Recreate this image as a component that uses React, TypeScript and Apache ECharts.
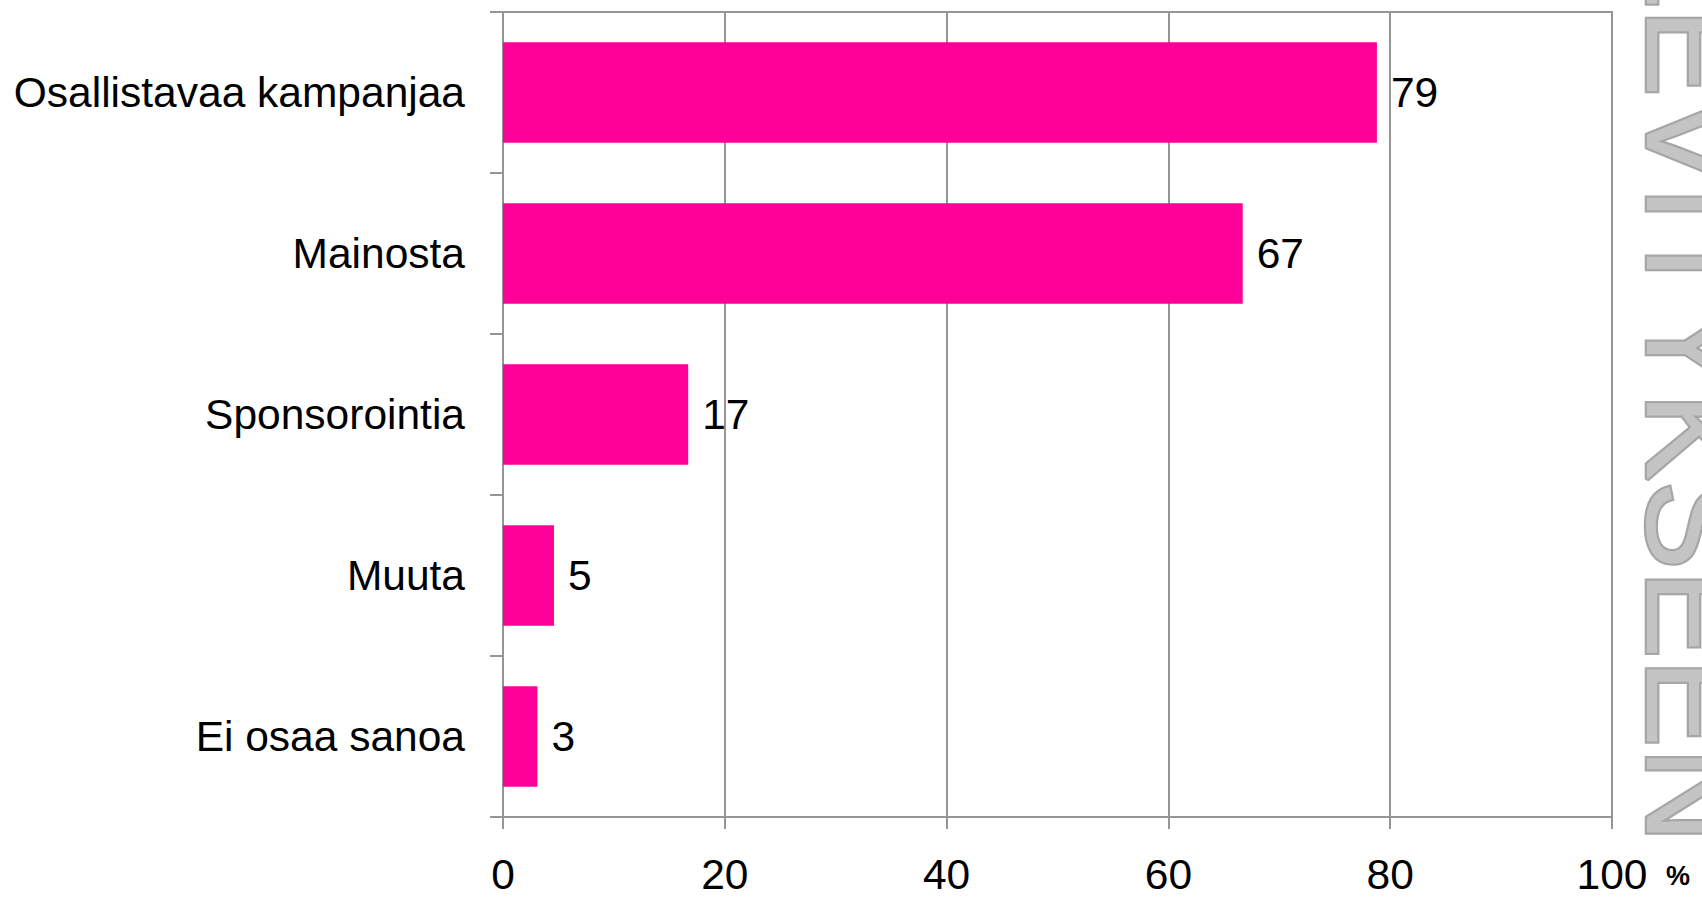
import React, { useEffect, useRef } from "react";
import * as echarts from "echarts";

const categories = [
  "Osallistavaa kampanjaa",
  "Mainosta",
  "Sponsorointia",
  "Muuta",
  "Ei osaa sanoa",
];
const values = [78.8, 66.7, 16.7, 4.6, 3.1];
const valueLabels = ["79", "67", "17", "5", "3"];
const xTicks = [0, 20, 40, 60, 80, 100];
const unitLabel = "%";
const watermark = "LEVITYKSEEN";

const FONT = "'Liberation Sans', Arial, Helvetica, sans-serif";
const GRAY = "#959595";

export default function App() {
  const ref = useRef<HTMLDivElement>(null);
  useEffect(() => {
    if (!ref.current) return;
    const chart = echarts.init(ref.current, null, { renderer: "svg" });
    chart.setOption({
      animation: false,
      backgroundColor: "#ffffff",
      grid: {
        left: 503,
        top: 12,
        width: 1109,
        height: 805,
        show: true,
        borderColor: GRAY,
        borderWidth: 2,
        containLabel: false,
        outerBoundsMode: "none",
      },
      xAxis: {
        type: "value",
        min: xTicks[0],
        max: xTicks[xTicks.length - 1],
        interval: 20,
        axisLine: { show: true, lineStyle: { color: GRAY, width: 2 } },
        axisTick: { show: true, length: 12, lineStyle: { color: GRAY, width: 2 } },
        splitLine: { show: true, lineStyle: { color: GRAY, width: 2 } },
        axisLabel: {
          margin: 40,
          fontSize: 42.5,
          lineHeight: 34,
          fontFamily: FONT,
          color: "#000",
        },
      },
      yAxis: {
        type: "category",
        data: categories,
        inverse: true,
        axisLine: { show: true, lineStyle: { color: GRAY, width: 2 } },
        axisTick: { show: true, length: 13, alignWithLabel: false, lineStyle: { color: GRAY, width: 2 } },
        splitLine: { show: false },
        axisLabel: {
          margin: 38,
          fontSize: 42.5,
          fontFamily: FONT,
          color: "#000",
        },
      },
      series: [
        {
          type: "bar",
          data: values,
          barCategoryGap: "37.5%",
          itemStyle: { color: "#ff0099" },
          label: {
            show: true,
            position: "right",
            distance: 14,
            fontSize: 42.5,
            fontFamily: FONT,
            color: "#000",
            formatter: (p: any) => valueLabels[p.dataIndex],
          },
        },
      ],
      graphic: [
        {
          type: "text",
          x: 1693,
          y: -66,
          rotation: -Math.PI / 2,
          silent: true,
          z: 10,
          style: {
            text: watermark,
            fontSize: 133,
            fontFamily: FONT,
            fill: "#c4c4c4",
            stroke: "#a6a6a6",
            lineWidth: 4.5,
            lineJoin: "miter",
            align: "left",
            verticalAlign: "middle",
          },
        },
        {
          type: "text",
          x: 1666,
          y: 876,
          silent: true,
          style: {
            text: unitLabel,
            fontSize: 27,
            fontWeight: "bold",
            fontFamily: FONT,
            fill: "#000",
            align: "left",
            verticalAlign: "middle",
          },
        },
      ],
    });
    return () => chart.dispose();
  }, []);
  return (
    <div
      ref={ref}
      style={{ position: "fixed", left: 0, top: 0, width: 1702, height: 898 }}
    />
  );
}
